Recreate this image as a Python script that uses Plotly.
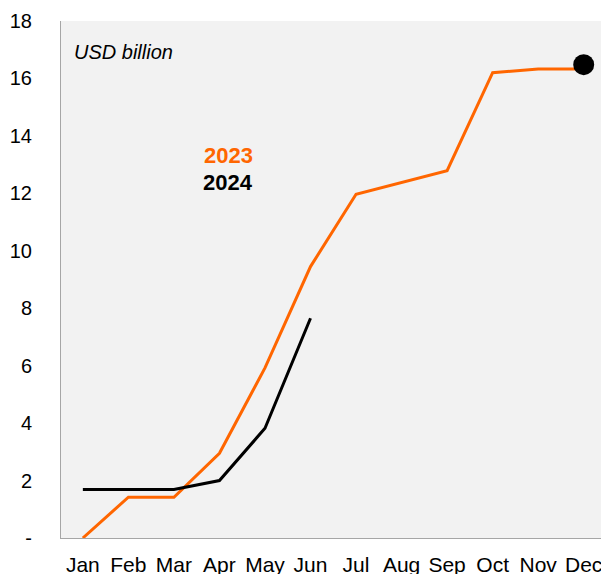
import plotly.graph_objects as go

months = ["Jan", "Feb", "Mar", "Apr", "May", "Jun", "Jul", "Aug", "Sep", "Oct", "Nov", "Dec"]
values_2023 = [0.0, 1.42, 1.42, 2.95, 5.92, 9.45, 11.97, 12.38, 12.79, 16.2, 16.33, 16.33]
values_2024 = [1.69, 1.69, 1.69, 2.0, 3.82, 7.65]
dec_marker_month = ["Dec"]
dec_marker_value = [16.48]
y_ticks = [0, 2, 4, 6, 8, 10, 12, 14, 16, 18]
y_tick_labels = ["-", "2", "4", "6", "8", "10", "12", "14", "16", "18"]

orange = "#FF6600"
font = "Liberation Sans, Arial, sans-serif"

fig = go.Figure()
fig.add_trace(go.Scatter(x=months, y=values_2023, mode="lines",
                         line=dict(color=orange, width=3), cliponaxis=False, showlegend=False))
fig.add_trace(go.Scatter(x=months[:len(values_2024)], y=values_2024, mode="lines",
                         line=dict(color="black", width=3), cliponaxis=False, showlegend=False))
fig.add_trace(go.Scatter(x=dec_marker_month, y=dec_marker_value, mode="markers",
                         marker=dict(color="black", size=21), cliponaxis=False, showlegend=False))

fig.update_layout(
    width=601, height=574,
    margin=dict(l=61, r=0, t=21, b=36),
    paper_bgcolor="white", plot_bgcolor="#F2F2F2",
    font=dict(family=font, size=20, color="black"),
    xaxis=dict(type="category", categoryorder="array", categoryarray=months,
               range=[-0.48, 11.38], showgrid=False, zeroline=False, automargin=False,
               showline=True, linecolor="#A6A6A6", linewidth=1,
               ticks="", ticklen=0, ticklabelstandoff=8, tickfont=dict(size=21)),
    yaxis=dict(range=[0, 18], tickvals=y_ticks, ticktext=y_tick_labels, automargin=False,
               showgrid=False, zeroline=False, showline=True, linecolor="#A6A6A6",
               linewidth=1, ticks="outside", ticklen=24, tickcolor="rgba(0,0,0,0)",
               tickfont=dict(size=20)),
    annotations=[
        dict(text="<i>USD billion</i>", xref="paper", yref="paper", x=0.02, y=0.94,
             xanchor="left", yanchor="middle", showarrow=False, font=dict(size=20)),
        dict(text="<b>2023</b>", xref="paper", yref="paper", x=0.31, y=0.739,
             xanchor="center", yanchor="middle", showarrow=False,
             font=dict(size=22, color=orange)),
        dict(text="<b>2024</b>", xref="paper", yref="paper", x=0.31, y=0.687,
             xanchor="center", yanchor="middle", showarrow=False,
             font=dict(size=22, color="black")),
    ],
)

fig.write_html("out.html")
